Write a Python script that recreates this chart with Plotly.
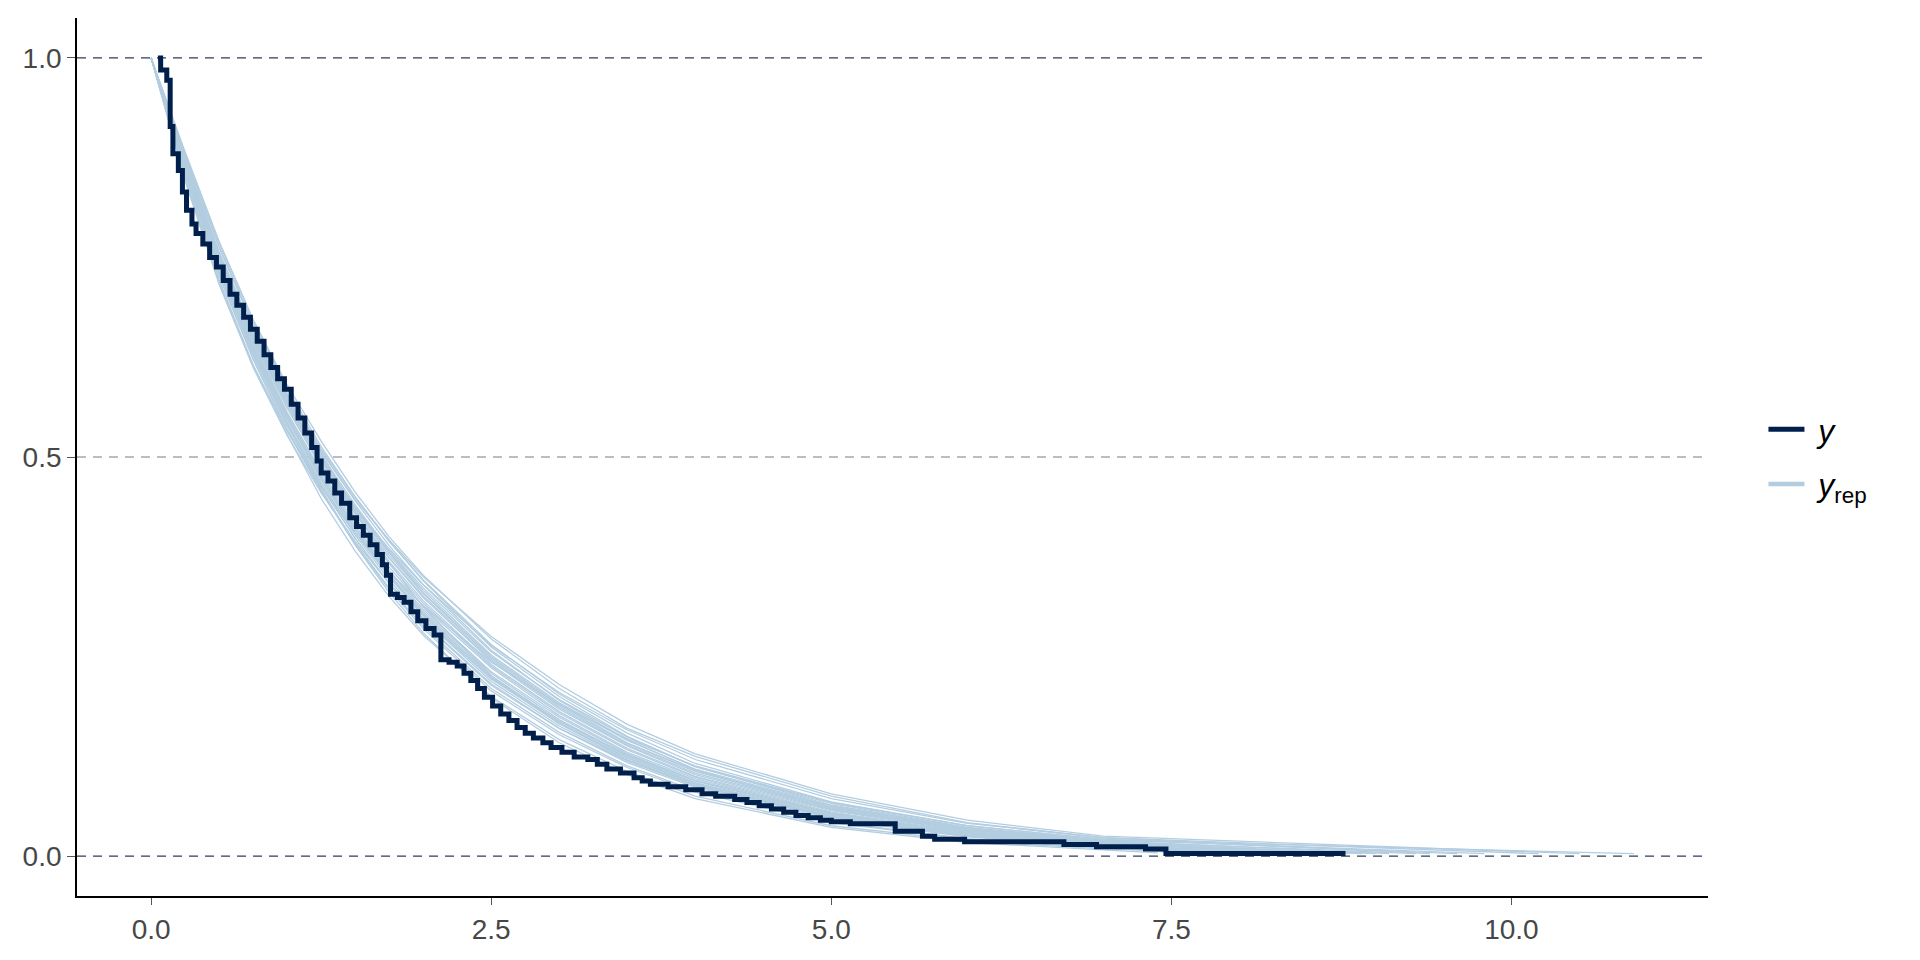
import plotly.graph_objects as go

obs_t = [0.05, 0.07, 0.115, 0.14, 0.16, 0.20, 0.23, 0.26, 0.30, 0.33, 0.38, 0.43, 0.48, 0.53,
         0.58, 0.63, 0.68, 0.73, 0.78, 0.83, 0.88, 0.93, 0.98, 1.03, 1.08, 1.13, 1.18, 1.22,
         1.25, 1.30, 1.35, 1.40, 1.46, 1.51, 1.56, 1.61, 1.66, 1.70, 1.73, 1.76, 1.81, 1.86,
         1.91, 1.96, 2.02, 2.08, 2.13, 2.19, 2.25, 2.30, 2.35, 2.40, 2.45, 2.51, 2.57, 2.63,
         2.69, 2.75, 2.81, 2.88, 2.94, 3.02, 3.11, 3.21, 3.28, 3.35, 3.45, 3.55, 3.61, 3.67,
         3.80, 3.93, 4.05, 4.15, 4.29, 4.38, 4.47, 4.56, 4.65, 4.74, 4.83, 4.92, 5.00, 5.14,
         5.47, 5.67, 5.76, 5.98, 6.71, 6.95, 7.31, 7.46, 8.78]
obs_s = [1.000, 0.985, 0.972, 0.914, 0.880, 0.859, 0.832, 0.809, 0.792, 0.780, 0.767, 0.750, 0.738, 0.721,
         0.704, 0.690, 0.675, 0.660, 0.645, 0.628, 0.612, 0.598, 0.585, 0.566, 0.549, 0.530, 0.512, 0.495,
         0.480, 0.470, 0.455, 0.442, 0.424, 0.413, 0.402, 0.390, 0.378, 0.365, 0.352, 0.328, 0.324, 0.318,
         0.306, 0.295, 0.285, 0.277, 0.246, 0.243, 0.238, 0.229, 0.220, 0.210, 0.199, 0.188, 0.178, 0.170,
         0.161, 0.154, 0.148, 0.142, 0.136, 0.130, 0.124, 0.121, 0.115, 0.109, 0.104, 0.098, 0.094, 0.090,
         0.087, 0.083, 0.078, 0.075, 0.071, 0.067, 0.063, 0.059, 0.055, 0.051, 0.048, 0.045, 0.043, 0.0405,
         0.031, 0.025, 0.021, 0.018, 0.0146, 0.0117, 0.0088, 0.0034, 0.0034]

# replicated curves, sampled on a common time grid
rep_grid = [0, 0.25, 0.5, 0.75, 1.0, 1.25, 1.5, 1.75, 2.0, 2.5, 3.0, 3.5, 4.0, 5.0, 6.0, 7.0]
rep_01 = [1.0, 0.880, 0.768, 0.672, 0.590, 0.520, 0.456, 0.400, 0.352, 0.272, 0.210, 0.160, 0.125, 0.075, 0.042, 0.023]
rep_02 = [1.0, 0.850, 0.722, 0.615, 0.528, 0.448, 0.382, 0.325, 0.277, 0.200, 0.146, 0.106, 0.075, 0.038, 0.019, 0.009]
rep_03 = [1.0, 0.872, 0.755, 0.656, 0.572, 0.500, 0.435, 0.380, 0.330, 0.250, 0.190, 0.142, 0.107, 0.062, 0.034, 0.019]
rep_04 = [1.0, 0.860, 0.736, 0.633, 0.548, 0.472, 0.405, 0.350, 0.300, 0.222, 0.166, 0.123, 0.090, 0.049, 0.026, 0.013]
rep_05 = [1.0, 0.868, 0.752, 0.660, 0.580, 0.510, 0.450, 0.395, 0.345, 0.262, 0.200, 0.150, 0.112, 0.066, 0.036, 0.020]
rep_06 = [1.0, 0.855, 0.728, 0.625, 0.536, 0.458, 0.392, 0.336, 0.288, 0.210, 0.155, 0.113, 0.082, 0.043, 0.022, 0.011]
rep_07 = [1.0, 0.866, 0.748, 0.644, 0.556, 0.482, 0.418, 0.362, 0.313, 0.236, 0.176, 0.130, 0.097, 0.054, 0.029, 0.016]
rep_08 = [1.0, 0.875, 0.762, 0.664, 0.578, 0.503, 0.440, 0.383, 0.336, 0.256, 0.196, 0.149, 0.112, 0.064, 0.035, 0.019]
rep_09 = [1.0, 0.858, 0.732, 0.628, 0.540, 0.463, 0.398, 0.342, 0.293, 0.216, 0.160, 0.117, 0.086, 0.046, 0.024, 0.012]
rep_10 = [1.0, 0.862, 0.745, 0.648, 0.566, 0.492, 0.428, 0.373, 0.324, 0.244, 0.184, 0.138, 0.102, 0.058, 0.032, 0.017]
rep_11 = [1.0, 0.869, 0.744, 0.640, 0.552, 0.476, 0.411, 0.356, 0.306, 0.229, 0.171, 0.126, 0.094, 0.052, 0.028, 0.014]
rep_12 = [1.0, 0.864, 0.750, 0.655, 0.575, 0.507, 0.447, 0.396, 0.350, 0.275, 0.215, 0.165, 0.128, 0.078, 0.045, 0.025]
rep_13 = [1.0, 0.863, 0.738, 0.630, 0.540, 0.460, 0.390, 0.330, 0.280, 0.198, 0.142, 0.102, 0.072, 0.036, 0.017, 0.008]
rep_14 = [1.0, 0.882, 0.770, 0.672, 0.586, 0.505, 0.432, 0.368, 0.312, 0.226, 0.166, 0.121, 0.089, 0.048, 0.025, 0.012]
rep_15 = [1.0, 0.848, 0.718, 0.615, 0.532, 0.463, 0.405, 0.356, 0.314, 0.243, 0.190, 0.147, 0.113, 0.067, 0.038, 0.021]
rep_16 = [1.0, 0.870, 0.752, 0.654, 0.571, 0.497, 0.433, 0.377, 0.329, 0.248, 0.188, 0.141, 0.106, 0.060, 0.033, 0.018]
rep_17 = [1.0, 0.859, 0.740, 0.636, 0.548, 0.472, 0.406, 0.351, 0.302, 0.224, 0.167, 0.123, 0.091, 0.050, 0.026, 0.013]
rep_18 = [1.0, 0.878, 0.764, 0.668, 0.586, 0.513, 0.450, 0.394, 0.346, 0.265, 0.203, 0.154, 0.116, 0.068, 0.038, 0.021]
rep_19 = [1.0, 0.853, 0.727, 0.622, 0.533, 0.457, 0.390, 0.334, 0.285, 0.207, 0.152, 0.111, 0.080, 0.042, 0.021, 0.010]
rep_20 = [1.0, 0.867, 0.749, 0.649, 0.563, 0.489, 0.424, 0.369, 0.320, 0.240, 0.181, 0.135, 0.100, 0.057, 0.031, 0.017]
rep_21 = [1.0, 0.864, 0.742, 0.641, 0.554, 0.479, 0.414, 0.358, 0.309, 0.231, 0.174, 0.128, 0.095, 0.053, 0.028, 0.015]
rep_22 = [1.0, 0.866, 0.752, 0.657, 0.577, 0.507, 0.445, 0.389, 0.340, 0.258, 0.195, 0.146, 0.108, 0.061, 0.033, 0.017]
rep_23 = [1.0, 0.866, 0.740, 0.633, 0.543, 0.465, 0.398, 0.341, 0.292, 0.214, 0.160, 0.119, 0.088, 0.049, 0.026, 0.014]
rep_24 = [1.0, 0.871, 0.753, 0.652, 0.568, 0.495, 0.430, 0.374, 0.326, 0.246, 0.186, 0.139, 0.104, 0.059, 0.032, 0.017]
rep_25 = [1.0, 0.862, 0.739, 0.637, 0.550, 0.475, 0.409, 0.353, 0.304, 0.226, 0.169, 0.125, 0.092, 0.051, 0.027, 0.014]
rep_26 = [1.0, 0.868, 0.748, 0.650, 0.568, 0.497, 0.437, 0.385, 0.340, 0.264, 0.205, 0.158, 0.121, 0.072, 0.041, 0.023]
rep_27 = [1.0, 0.846, 0.716, 0.612, 0.527, 0.455, 0.394, 0.342, 0.297, 0.223, 0.169, 0.127, 0.095, 0.053, 0.029, 0.015]
rep_28 = [1.0, 0.865, 0.746, 0.646, 0.561, 0.487, 0.422, 0.366, 0.317, 0.238, 0.179, 0.133, 0.099, 0.055, 0.030, 0.016]
rep_29 = [1.0, 0.873, 0.757, 0.658, 0.574, 0.500, 0.437, 0.381, 0.333, 0.252, 0.192, 0.145, 0.109, 0.063, 0.035, 0.019]
rep_30 = [1.0, 0.857, 0.734, 0.631, 0.544, 0.468, 0.402, 0.346, 0.297, 0.219, 0.163, 0.120, 0.088, 0.048, 0.025, 0.013]
rep_curves = [rep_01, rep_02, rep_03, rep_04, rep_05, rep_06, rep_07, rep_08, rep_09, rep_10,
              rep_11, rep_12, rep_13, rep_14, rep_15, rep_16, rep_17, rep_18, rep_19, rep_20,
              rep_21, rep_22, rep_23, rep_24, rep_25, rep_26, rep_27, rep_28, rep_29, rep_30]
# last event time of each replicate and the value held there
rep_end = [9.4, 7.9, 8.6, 8.2, 10.9, 7.6, 8.8, 9.1, 8.0, 8.4, 7.7, 10.5, 7.4, 8.1, 9.8,
           8.7, 7.9, 9.6, 7.8, 8.5, 8.3, 9.0, 7.5, 8.9, 8.0, 10.2, 8.2, 8.6, 9.3, 7.8]
rep_last = [0.003, 0.004, 0.003, 0.004, 0.003, 0.004, 0.003, 0.003, 0.004, 0.003,
            0.004, 0.003, 0.004, 0.003, 0.003, 0.003, 0.004, 0.003, 0.004, 0.003,
            0.003, 0.003, 0.004, 0.003, 0.004, 0.003, 0.004, 0.003, 0.003, 0.004]

x_ticks = [0.0, 2.5, 5.0, 7.5, 10.0]
y_ticks = [0.0, 0.5, 1.0]

DARK = "#011f4b"
LIGHT = "#b3cde0"
FONT = "Liberation Sans, Arial, sans-serif"
NB = "\u00a0"

rx, ry = [], []
for curve, t_end, s_end in zip(rep_curves, rep_end, rep_last):
    rx += rep_grid + [t_end, None]
    ry += curve + [s_end, None]

fig = go.Figure()
fig.add_trace(go.Scatter(x=rx, y=ry, mode="lines", line=dict(color=LIGHT, width=1.3),
                         showlegend=False, hoverinfo="skip"))
fig.add_trace(go.Scatter(x=obs_t, y=obs_s, mode="lines", line=dict(color=DARK, width=5, shape="hv"),
                         name=NB + "<i>y</i>", legendgroup="obs"))
fig.add_trace(go.Scatter(x=[None], y=[None], mode="lines", line=dict(color=LIGHT, width=4.5),
                         name=NB + "<i>y</i><sub>rep</sub>", legendgroup="rep"))

# reference lines at 0, 0.5 and 1
for yv, col in [(0.0, "#2e3c5a"), (0.5, "#a4a8b5"), (1.0, "#2e3c5a")]:
    fig.add_shape(type="line", xref="paper", x0=0, x1=1, yref="y", y0=yv, y1=yv,
                  line=dict(color=col, width=1.4, dash="9px,7px"), layer="below")

fig.update_xaxes(range=[-0.545, 11.445], tickvals=x_ticks, ticktext=["0.0", "2.5", "5.0", "7.5", "10.0"],
                 showgrid=False, zeroline=False, showline=True, linecolor="black", linewidth=1.8,
                 ticks="outside", ticklen=7, tickwidth=1.4, tickcolor="#555555",
                 tickfont=dict(family=FONT, size=28, color="#474747"))
fig.update_yaxes(range=[-0.05, 1.05], tickvals=y_ticks, ticktext=["0.0", "0.5", "1.0"],
                 showgrid=False, zeroline=False, showline=True, linecolor="black", linewidth=1.8,
                 ticks="outside", ticklen=8, tickwidth=1.4, tickcolor="#555555",
                 tickfont=dict(family=FONT, size=28, color="#474747"))

fig.update_layout(
    width=1920, height=960,
    margin=dict(l=69, r=220, t=10, b=72, autoexpand=False),
    plot_bgcolor="white", paper_bgcolor="white",
    font=dict(family=FONT, color="black"),
    legend=dict(x=1.034, y=0.50, xanchor="left", yanchor="middle",
                font=dict(family=FONT, size=32, color="black"), itemwidth=36,
                tracegroupgap=10, bgcolor="rgba(0,0,0,0)"),
)

fig.write_html("out.html")
